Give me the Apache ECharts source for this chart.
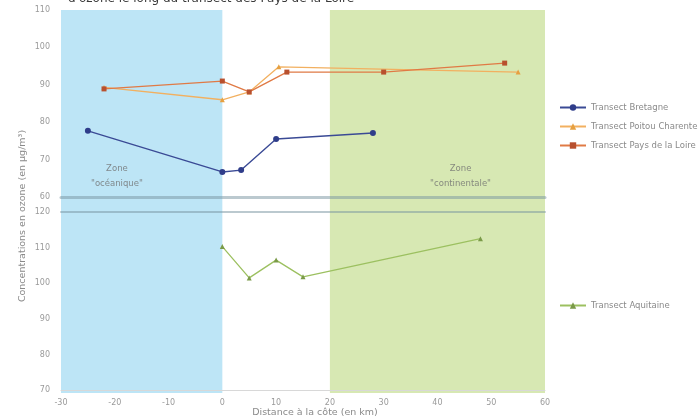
<!DOCTYPE html>
<html>
<head>
<meta charset="utf-8">
<script src="https://cdn.jsdelivr.net/npm/echarts@6/dist/echarts.min.js"></script>
<style>
  html, body { margin: 0; padding: 0; background: #ffffff; }
  #chart { width: 698px; height: 419px; }
</style>
</head>
<body>
<div id="chart"></div>
<script>
// Distance to the coast (km) and ozone concentrations (µg/m³) for each transect
const bretagneKm     = [-25, 0, 3.5, 10, 28];
const bretagneO3     = [77.7, 66.7, 67.2, 75.5, 77.1];

const poitouKm       = [-22, 0, 5, 10.5, 55];
const poitouO3       = [89.3, 86, 88.1, 94.8, 93.4];

const paysLoireKm    = [-22, 0, 5, 12, 30, 52.5];
const paysLoireO3    = [88.9, 91, 88.1, 93.4, 93.4, 95.8];

const aquitaineKm    = [0, 5, 10, 15, 48];
const aquitaineO3    = [110.3, 101.5, 106.5, 101.8, 112.5];

// Coastal zones along the distance axis
const zoneOcean      = [-30, 0];
const zoneContinent  = [20, 60];
const zoneLabels     = [
  { text: 'Zone\n"océanique"', km: -19.6, o3: 65.6 },
  { text: 'Zone\n"continentale"', km: 44.3, o3: 65.6 }
];

const xRange = [-30, 60];
const yTop   = [60, 110];
const yBot   = [70, 120];

const pairs = (xs, ys) => xs.map((x, i) => [x, ys[i]]);

const chart = echarts.init(document.getElementById('chart'), null, { renderer: 'canvas' });

const axisTxt = { color: '#9a9a9a', fontSize: 8, fontFamily: 'DejaVu Sans' };
const seam = 'rgba(120,148,160,0.5)';

chart.setOption({
  animation: false,
  backgroundColor: '#ffffff',
  title: {
    text: "d'ozone le long du transect des Pays de la Loire",
    left: 63, top: -12,
    textStyle: { fontSize: 12, fontWeight: 'normal', color: '#3a3a3a', fontFamily: 'DejaVu Sans' }
  },
  legend: [
    {
      data: ['Transect Bretagne', 'Transect Poitou Charentes', 'Transect Pays de la Loire'],
      orient: 'vertical', left: 554, top: 98, itemGap: 10,
      itemWidth: 26, itemHeight: 8,
      textStyle: { color: '#8a8a8a', fontSize: 8.5, fontFamily: 'DejaVu Sans' }
    },
    {
      data: ['Transect Aquitaine'],
      orient: 'vertical', left: 554, top: 296,
      itemWidth: 26, itemHeight: 8,
      textStyle: { color: '#8a8a8a', fontSize: 8.5, fontFamily: 'DejaVu Sans' }
    }
  ],
  grid: [
    { left: 61, right: 153, top: 10, height: 187 },
    { left: 61, right: 153, top: 212, height: 181 },
    { left: 61, right: 153, top: 10, height: 383 }
  ],
  xAxis: [
    { gridIndex: 0, type: 'value', min: xRange[0], max: xRange[1], interval: 10, z: 3,
      axisLabel: { show: false }, axisTick: { show: false }, splitLine: { show: false },
      axisLine: { lineStyle: { color: seam, width: 3 } } },
    { gridIndex: 1, type: 'value', min: xRange[0], max: xRange[1], interval: 10, z: 3,
      name: 'Distance à la côte (en km)', nameLocation: 'middle', nameGap: 15,
      nameTextStyle: { color: '#8a8a8a', fontSize: 9.5, fontFamily: 'DejaVu Sans', padding: [0, 0, 0, 24] },
      axisLabel: Object.assign({ margin: 9 }, axisTxt), axisTick: { show: false }, splitLine: { show: false },
      axisLine: { lineStyle: { color: '#d8d8d8', width: 1 } } },
    { gridIndex: 1, type: 'value', position: 'top', min: xRange[0], max: xRange[1], z: 3,
      axisLabel: { show: false }, axisTick: { show: false }, splitLine: { show: false },
      axisLine: { lineStyle: { color: seam, width: 2 } } },
    { gridIndex: 2, type: 'value', min: xRange[0], max: xRange[1], show: false }
  ],
  yAxis: [
    { gridIndex: 0, type: 'value', min: yTop[0], max: yTop[1], interval: 10,
      axisLabel: Object.assign({ margin: 11 }, axisTxt), axisTick: { show: false }, splitLine: { show: false },
      axisLine: { show: false } },
    { gridIndex: 1, type: 'value', min: yBot[0], max: yBot[1], interval: 10,
      axisLabel: Object.assign({ margin: 11 }, axisTxt), axisTick: { show: false }, splitLine: { show: false },
      axisLine: { show: false } },
    { gridIndex: 2, type: 'value', min: 0, max: 1, show: false }
  ],
  graphic: [
    {
      type: 'text', x: 23, y: 216, rotation: Math.PI / 2,
      style: {
        text: 'Concentrations en ozone (en µg/m³)',
        fill: '#8a8a8a', fontSize: 9.5, fontFamily: 'DejaVu Sans',
        textAlign: 'center', textVerticalAlign: 'middle'
      }
    }
  ],
  series: [
    {
      name: 'zones', type: 'line', xAxisIndex: 3, yAxisIndex: 2, z: -1,
      data: [[xRange[0], 0]], symbol: 'none', lineStyle: { opacity: 0 }, silent: true,
      markArea: {
        silent: true,
        data: [
          [{ xAxis: zoneOcean[0], itemStyle: { color: '#bde5f6' } }, { xAxis: zoneOcean[1] }],
          [{ xAxis: zoneContinent[0], itemStyle: { color: '#d7e8b3' } }, { xAxis: zoneContinent[1] }]
        ]
      }
    },
    {
      name: 'zoneNames', type: 'scatter', xAxisIndex: 0, yAxisIndex: 0, silent: true,
      symbolSize: 0,
      data: zoneLabels.map(z => ({ value: [z.km, z.o3], name: z.text })),
      label: {
        show: true, position: 'inside', formatter: p => p.name,
        color: '#707070', fontSize: 8.5, lineHeight: 15, fontFamily: 'DejaVu Sans', align: 'center'
      }
    },
    {
      name: 'Transect Bretagne', type: 'line', xAxisIndex: 0, yAxisIndex: 0,
      data: pairs(bretagneKm, bretagneO3),
      symbol: 'circle', symbolSize: 6,
      lineStyle: { color: '#3a4a95', width: 1.4 },
      itemStyle: { color: '#2f3d8a' }
    },
    {
      name: 'Transect Poitou Charentes', type: 'line', xAxisIndex: 0, yAxisIndex: 0,
      data: pairs(poitouKm, poitouO3),
      symbol: 'triangle', symbolSize: 5,
      lineStyle: { color: '#f2b060', width: 1.3 },
      itemStyle: { color: '#e6a040' }
    },
    {
      name: 'Transect Pays de la Loire', type: 'line', xAxisIndex: 0, yAxisIndex: 0,
      data: pairs(paysLoireKm, paysLoireO3),
      symbol: 'rect', symbolSize: 5,
      lineStyle: { color: '#e07a45', width: 1.3 },
      itemStyle: { color: '#b8502e' }
    },
    {
      name: 'Transect Aquitaine', type: 'line', xAxisIndex: 1, yAxisIndex: 1,
      data: pairs(aquitaineKm, aquitaineO3),
      symbol: 'triangle', symbolSize: 5,
      lineStyle: { color: '#9cc060', width: 1.3 },
      itemStyle: { color: '#7a9a48' }
    }
  ]
});
</script>
</body>
</html>
